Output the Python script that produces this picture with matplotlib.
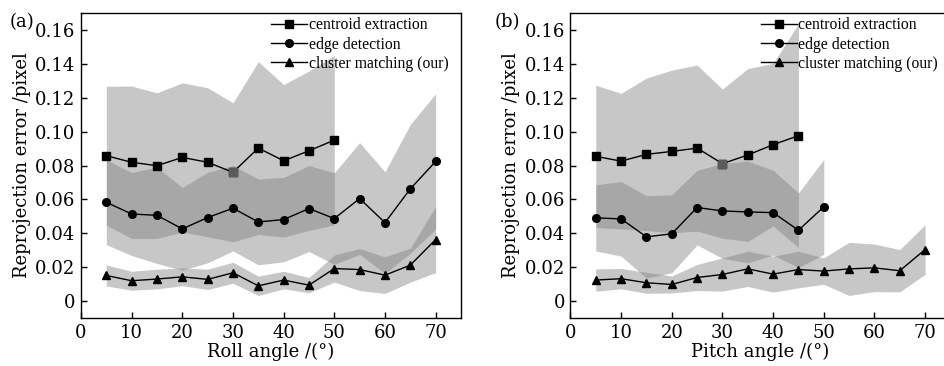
import numpy as np
import matplotlib
matplotlib.use("Agg")
import matplotlib.pyplot as plt

plt.rcParams['font.family'] = ['DejaVu Serif']
plt.rcParams['mathtext.fontset'] = 'dejavuserif'

# roll angle panel (a)
roll = [5, 10, 15, 20, 25, 30, 35, 40, 45, 50, 55, 60, 65, 70]
roll_cen = [0.0858, 0.0819, 0.0799, 0.0848, 0.0819, 0.0760, 0.0903, 0.0828, 0.0887, 0.0950]
roll_cen_sd = [0.041, 0.045, 0.043, 0.044, 0.044, 0.041, 0.051, 0.045, 0.047, 0.050]
roll_edge = [0.0583, 0.0514, 0.0506, 0.0426, 0.0493, 0.0548, 0.0467, 0.0481, 0.0546,
             0.0487, 0.0605, 0.0463, 0.0662, 0.0824]
roll_edge_sd = [0.025, 0.0245, 0.0284, 0.0244, 0.0267, 0.0252, 0.0253, 0.0249, 0.0254,
                0.027, 0.033, 0.030, 0.038, 0.040]
roll_clu = [0.0151, 0.0120, 0.0130, 0.0143, 0.0128, 0.0167, 0.0090, 0.0124, 0.0094,
            0.0192, 0.0186, 0.0153, 0.0212, 0.0363]
roll_clu_sd = [0.0062, 0.0056, 0.0058, 0.0052, 0.0060, 0.0062, 0.0057, 0.0052, 0.0045,
               0.0080, 0.0124, 0.0108, 0.0100, 0.0195]

# pitch angle panel (b)
pitch = [5, 10, 15, 20, 25, 30, 35, 40, 45, 50, 55, 60, 65, 70]
pitch_cen = [0.0854, 0.0826, 0.0866, 0.0883, 0.0903, 0.0811, 0.0862, 0.0923, 0.0976]
pitch_cen_sd = [0.042, 0.040, 0.045, 0.048, 0.049, 0.044, 0.051, 0.048, 0.066]
pitch_edge = [0.0491, 0.0485, 0.0379, 0.0397, 0.0552, 0.0532, 0.0526, 0.0522, 0.0418, 0.0556]
pitch_edge_sd = [0.0195, 0.022, 0.0243, 0.023, 0.022, 0.028, 0.030, 0.025, 0.022, 0.028]
pitch_clu = [0.0124, 0.0132, 0.0108, 0.0098, 0.0139, 0.0157, 0.0190, 0.0159, 0.0186,
             0.0177, 0.0190, 0.0196, 0.0179, 0.0304]
pitch_clu_sd = [0.0066, 0.0060, 0.0062, 0.0050, 0.0077, 0.0098, 0.0104, 0.0106, 0.0108,
                0.0078, 0.0157, 0.0140, 0.0125, 0.0146]

labels = ["centroid extraction", "edge detection", "cluster matching (our)"]
markers = ['s', 'o', '^']

fig = plt.figure(figsize=(9.44, 3.66), dpi=100)
axa = fig.add_axes([0.0858, 0.1311, 0.4025, 0.8333])
axb = fig.add_axes([0.6043, 0.1311, 0.4025, 0.8333])


def panel(ax, x, series, xlabel, tag, tagx):
    for (m, sd), mk, lab in zip(series, markers, labels):
        xs = np.array(x[:len(m)])
        m = np.array(m)
        sd = np.array(sd)
        ax.fill_between(xs, m - sd, m + sd, color='#7b7b7b', alpha=0.42, lw=0)
    for (m, sd), mk, lab in zip(series, markers, labels):
        xs = x[:len(m)]
        ax.plot(xs, m, '-', color='k', lw=1.0, marker=mk, ms=5.5, label=lab)
    # the 30 deg square is rendered lighter in the original
    cen = series[0][0]
    i = x.index(30)
    ax.plot([x[i]], [cen[i]], 's', color='#5a5a5a', ms=5.5)

    ax.set_xlim(0, 75)
    ax.set_ylim(-0.01, 0.17)
    ax.set_xticks(range(0, 71, 10))
    ax.set_yticks([0, 0.02, 0.04, 0.06, 0.08, 0.10, 0.12, 0.14, 0.16])
    ax.set_yticklabels(['0', '0.02', '0.04', '0.06', '0.08', '0.10', '0.12', '0.14', '0.16'])
    ax.tick_params(direction='in', length=4, width=1, labelsize=13, pad=4,
                   top=False, right=False)
    for s in ax.spines.values():
        s.set_linewidth(1.0)
    ax.set_xlabel(xlabel, fontsize=13, labelpad=1)
    ax.set_ylabel('Reprojection error /pixel', fontsize=13, labelpad=3)
    ax.legend(loc='upper left', bbox_to_anchor=(0.492, 0.997), frameon=False,
              prop={'family': 'Liberation Serif', 'size': 11.3},
              handlelength=2.3, handletextpad=0.1,
              labelspacing=0.22, borderpad=0.2, borderaxespad=0.0)
    ax.text(tagx, 1.0, tag, transform=ax.transAxes, fontsize=13, va='top')


panel(axa, roll, [(roll_cen, roll_cen_sd), (roll_edge, roll_edge_sd), (roll_clu, roll_clu_sd)],
      'Roll angle /(°)', '(a)', -0.187)
panel(axb, pitch, [(pitch_cen, pitch_cen_sd), (pitch_edge, pitch_edge_sd), (pitch_clu, pitch_clu_sd)],
      'Pitch angle /(°)', '(b)', -0.2)

fig.savefig('out.png', dpi=100)
